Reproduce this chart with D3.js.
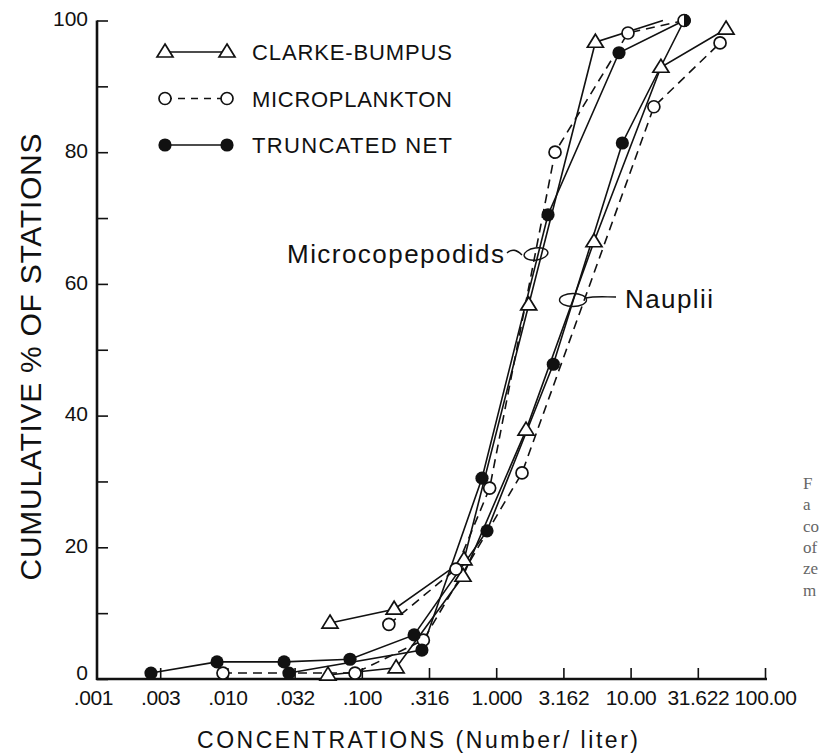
<!DOCTYPE html>
<html><head><meta charset="utf-8">
<script src="https://cdn.jsdelivr.net/npm/d3@7"></script>
<style>body{margin:0;background:#fff} svg{display:block}</style>
</head><body>
<svg id="c" width="819" height="754"></svg>
<script>
// ---------- data ----------
const xTickValues = [0.001, 0.003162, 0.01, 0.03162, 0.1, 0.3162, 1, 3.162, 10, 31.622, 100];
const xTickLabels = [".001", ".003", ".010", ".032", ".100", ".316", "1.000", "3.162", "10.00", "31.622", "100.00"];
const yTickValues = [0, 10, 20, 30, 40, 50, 60, 70, 80, 90, 100];
const yTickLabels = ["0", "", "20", "", "40", "", "60", "", "80", "", "100"];
const methods = ["CLARKE-BUMPUS", "MICROPLANKTON", "TRUNCATED NET"];

// Microcopepodids
const cbMicroX = [0.058, 0.174, 0.576, 1.745, 5.47, 17.4];
const cbMicroY = [8.5, 10.6, 18.1, 56.8, 96.7, 100];
const cbMicroMarked = [1, 1, 1, 1, 1, 0];
const mpMicroX = [0.159, 0.502, 0.894, 2.74, 9.56, 25.0];
const mpMicroY = [8.3, 16.7, 29.0, 80.0, 98.1, 100];
const tnMicroX = [0.0287, 0.280, 0.784, 2.43, 8.20, 25.0];
const tnMicroY = [0.9, 4.4, 30.5, 70.5, 95.1, 100];

// Nauplii
const cbNaupX = [0.056, 0.180, 0.566, 1.667, 5.34, 16.8, 51.3];
const cbNaupY = [0.6, 1.7, 15.6, 37.8, 66.4, 92.9, 98.7];
const mpNaupX = [0.00927, 0.089, 0.287, 1.556, 14.9, 46.3];
const mpNaupY = [0.9, 0.9, 5.9, 31.3, 86.9, 96.6];
const tnNaupX = [0.0027, 0.00837, 0.0264, 0.0817, 0.245, 0.854, 2.66, 8.68, 25.0];
const tnNaupY = [0.9, 2.6, 2.6, 3.0, 6.7, 22.5, 47.8, 81.4, 100];

const groupLabels = ["Microcopepodids", "Nauplii"];
const captionFragments = ["F", "a", "co", "of", "ze", "m"];

// ---------- build ----------
const series = [
  {m: 0, xs: cbMicroX, ys: cbMicroY, marked: cbMicroMarked},
  {m: 1, xs: mpMicroX, ys: mpMicroY},
  {m: 2, xs: tnMicroX, ys: tnMicroY},
  {m: 0, xs: cbNaupX, ys: cbNaupY},
  {m: 1, xs: mpNaupX, ys: mpNaupY},
  {m: 2, xs: tnNaupX, ys: tnNaupY}
].map(s => ({m: s.m, pts: s.xs.map((v, i) => ({x: v, y: s.ys[i], mk: s.marked ? s.marked[i] : 1}))}));

const svg = d3.select("#c");
const FONT = "'Liberation Sans', Arial, sans-serif";
const x = d3.scaleLog().domain([0.001, 100]).range([93, 765]);
const y = d3.scaleLinear().domain([0, 100]).range([679, 20.5]);
const axisX0 = 97, axisX1 = 767;

// axes
const gx = svg.append("g").attr("transform", `translate(0,${y(0)})`)
  .call(d3.axisBottom(x).tickValues(xTickValues).tickFormat((d, i) => xTickLabels[i])
    .tickSizeInner(-11).tickSizeOuter(0).tickPadding(11));
gx.select(".domain").remove();
gx.selectAll(".tick line").attr("stroke", "#111").attr("stroke-width", 1.6)
  .filter((d, i) => i === 0).remove();
gx.selectAll(".tick text").attr("font-family", FONT).attr("font-size", 21)
  .attr("letter-spacing", "-0.4px").attr("fill", "#111");

const gy = svg.append("g").attr("transform", `translate(${axisX0},0)`)
  .call(d3.axisLeft(y).tickValues(yTickValues).tickFormat((d, i) => yTickLabels[i])
    .tickSizeInner(-11).tickSizeOuter(0).tickPadding(9));
gy.select(".domain").remove();
gy.selectAll(".tick line").attr("stroke", "#111").attr("stroke-width", 1.6);
gy.selectAll(".tick text").attr("font-family", FONT).attr("font-size", 21).attr("fill", "#111")
  .attr("dy", d => d === 0 ? "0em" : "0.25em");

svg.append("line").attr("x1", axisX0).attr("x2", axisX0).attr("y1", y(100)).attr("y2", y(0) + 1)
  .attr("stroke", "#111").attr("stroke-width", 2.6);
svg.append("line").attr("x1", axisX0 - 1).attr("x2", axisX1).attr("y1", y(0)).attr("y2", y(0))
  .attr("stroke", "#111").attr("stroke-width", 2.6);

// axis titles
svg.append("text").attr("transform", "translate(41,357) rotate(-90)")
  .attr("text-anchor", "middle").attr("font-family", FONT).attr("font-size", 30)
  .attr("textLength", 447).attr("fill", "#111").text("CUMULATIVE % OF STATIONS");
svg.append("text").attr("x", 197).attr("y", 748)
  .attr("font-family", FONT).attr("font-size", 23)
  .attr("textLength", 441).attr("fill", "#111").text("CONCENTRATIONS (Number/ liter)");

// lines
const dashes = [null, "9,6", null];
const line = d3.line().x(d => x(d.x)).y(d => y(d.y));
svg.append("g").selectAll("path").data(series).join("path")
  .attr("d", s => line(s.pts)).attr("fill", "none").attr("stroke", "#111")
  .attr("stroke-width", 1.6).attr("stroke-dasharray", s => dashes[s.m]);

// markers
const triPath = "M0,-8L8,5L-8,5Z";
function marker(g, m, cx, cy, half) {
  if (m === 0) g.append("path").attr("d", triPath).attr("transform", `translate(${cx},${cy})`)
    .attr("fill", "#fff").attr("stroke", "#111").attr("stroke-width", 1.7);
  else if (m === 1) g.append("circle").attr("cx", cx).attr("cy", cy).attr("r", 6)
    .attr("fill", "#fff").attr("stroke", "#111").attr("stroke-width", 1.7);
  else if (half) g.append("path")
    .attr("d", d3.arc()({innerRadius: 0, outerRadius: 6.5, startAngle: 0, endAngle: Math.PI}))
    .attr("transform", `translate(${cx},${cy})`).attr("fill", "#111");
  else g.append("circle").attr("cx", cx).attr("cy", cy).attr("r", 6.6).attr("fill", "#111");
}
const mg = svg.append("g");
const mpPts = series.filter(s => s.m === 1).flatMap(s => s.pts);
[0, 1, 2].forEach(m => {
  series.filter(s => s.m === m).forEach(s => s.pts.forEach(p => {
    if (!p.mk) return;
    const half = m === 2 && mpPts.some(q => q.x === p.x && q.y === p.y);
    marker(mg, m, x(p.x), y(p.y), half);
  }));
});

// legend
const lg = svg.append("g");
methods.forEach((name, i) => {
  const ly = 52 + i * 46.5;
  lg.append("line").attr("x1", 165).attr("x2", 227).attr("y1", ly).attr("y2", ly)
    .attr("stroke", "#111").attr("stroke-width", 1.6).attr("stroke-dasharray", i === 1 ? "7,6" : null);
  marker(lg, i, 165, ly, false);
  marker(lg, i, 227, ly, false);
  lg.append("text").attr("x", 252).attr("y", ly + 8).attr("font-family", FONT)
    .attr("font-size", 22).attr("textLength", 200).attr("fill", "#111").text(name);
});

// group annotations
const ann = svg.append("g").attr("fill", "none").attr("stroke", "#111").attr("stroke-width", 1.4);
svg.append("text").attr("x", 287).attr("y", 263).attr("font-family", FONT).attr("font-size", 26)
  .attr("textLength", 217).attr("fill", "#111").text(groupLabels[0]);
ann.append("path").attr("d", "M507,253 C512,248 517,250 522,255");
ann.append("ellipse").attr("cx", 536).attr("cy", 254).attr("rx", 12).attr("ry", 6)
  .attr("transform", "rotate(-8,536,254)");
svg.append("text").attr("x", 625).attr("y", 308).attr("font-family", FONT).attr("font-size", 26)
  .attr("textLength", 88).attr("fill", "#111").text(groupLabels[1]);
ann.append("ellipse").attr("cx", 573).attr("cy", 300).attr("rx", 13.5).attr("ry", 6.5);
ann.append("path").attr("d", "M586,298 C595,296 605,297 616,297");

// caption fragments cut at the right edge
svg.append("g").selectAll("text").data(captionFragments).join("text")
  .attr("x", 803).attr("y", (d, i) => 489 + i * 21.3)
  .attr("font-family", "'Liberation Serif', 'DejaVu Serif', serif").attr("font-size", 17)
  .attr("fill", "#666").text(d => d);
</script>
</body></html>
